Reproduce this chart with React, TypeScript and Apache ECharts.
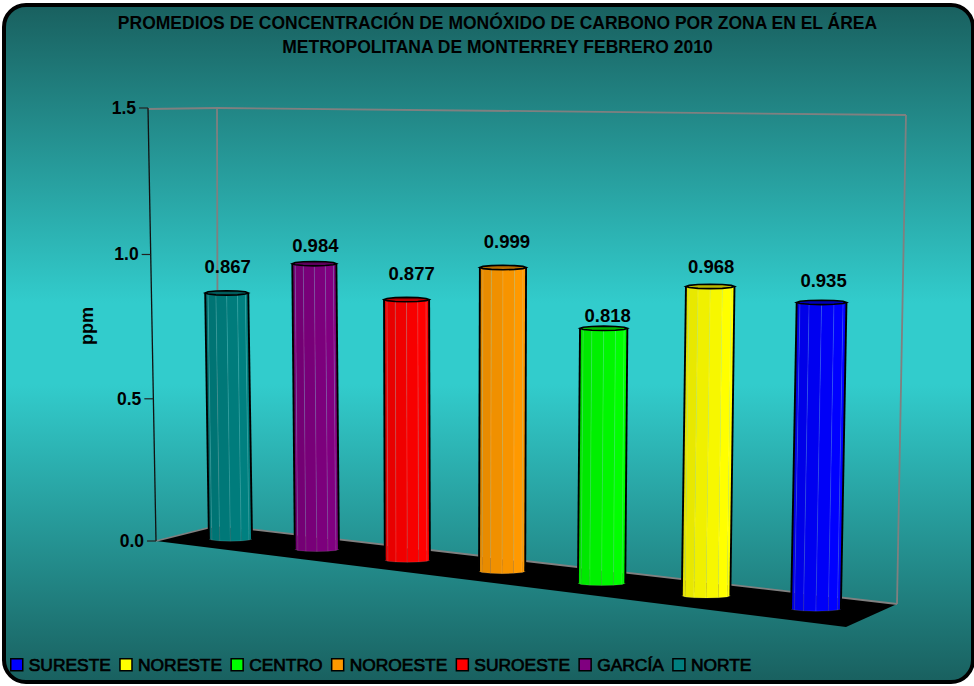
import React, { useEffect, useRef } from "react";
import * as echarts from "echarts";

const TITLE = "PROMEDIOS DE CONCENTRACIÓN DE MONÓXIDO DE CARBONO POR ZONA EN EL ÁREA\nMETROPOLITANA DE MONTERREY FEBRERO 2010";
const CATEGORIES = ["NORTE", "GARCÍA", "SUROESTE", "NOROESTE", "CENTRO", "NORESTE", "SURESTE"];
const VALUES = [0.867, 0.984, 0.877, 0.999, 0.818, 0.968, 0.935];
const COLORS = ["#008080", "#800080", "#ff0000", "#ff9900", "#00ff00", "#ffff00", "#0000ff"];
const LEGEND_ORDER = ["SURESTE", "NORESTE", "CENTRO", "NOROESTE", "SUROESTE", "GARCÍA", "NORTE"];
const TICKS = [0, 0.5, 1, 1.5];
const LABEL_LIFT = [26, 18, 26, 26, 13, 20, 22];
const LABEL_SHIFT = [0, 0, 4, 3, 3, 0, 1];
const FONT = '"Liberation Sans", Arial, sans-serif';

// Perspective of the bars' plane
const K = 0.155, X0 = 188.7, XS = 578.3, Y0 = 534, YS = 69.1, H = 421, R = 21.3, RY = 2.2, LEAN = 12 * 1.5;
const FACETS = 6;

function shade(hex: string, f: number) {
  const n = parseInt(hex.slice(1), 16);
  const c = (s: number) => Math.round(((n >> s) & 255) * f);
  return `rgb(${c(16)},${c(8)},${c(0)})`;
}

function renderBar(params: any, api: any) {
  const cs = params.coordSys;
  const i = api.value(0);
  const val = api.value(1);
  const p0 = api.coord([i, 0]);
  const p1 = api.coord([i, val]);
  const u = (p0[0] - cs.x) / cs.width;
  const v = (p0[1] - p1[1]) / cs.height;
  const w = 1 / (1 - K * u);
  const cx = X0 + XS * u * w;
  const by = Y0 + YS * u * w;
  const ty = by - H * v * w;
  const half = R * w;
  const lean = LEAN * (u - 0.43) * v;
  const color = COLORS[i];
  const children: any[] = [];
  const at = (k: number) => {
    const th = (Math.PI * k) / FACETS;
    return { c: -Math.cos(th), s: Math.sin(th) };
  };
  // cap
  const cap: number[][] = [];
  for (let k = 0; k <= 2 * FACETS; k++) {
    const th = (Math.PI * k) / FACETS;
    cap.push([cx + lean - half * Math.cos(th), ty + RY * Math.sin(th)]);
  }
  // facets
  for (let k = 0; k < FACETS; k++) {
    const a = at(k), b = at(k + 1);
    const f = 0.88 + (0.12 * Math.min(k, 4)) / 4;
    children.push({
      type: "polygon",
      shape: {
        points: [
          [cx + lean + half * a.c, ty + RY * a.s],
          [cx + lean + half * b.c, ty + RY * b.s],
          [cx + half * b.c, by + RY * b.s],
          [cx + half * a.c, by + RY * a.s],
        ],
      },
      style: { fill: shade(color, f), stroke: "rgba(255,255,255,0.16)", lineWidth: 0.7 },
    });
  }
  children.push({
    type: "polygon",
    shape: { points: cap },
    style: { fill: shade(color, 0.72), stroke: "#000", lineWidth: 1.6 },
  });
  children.push({
    type: "line",
    shape: { x1: cx + lean - half, y1: ty, x2: cx - half, y2: by },
    style: { stroke: "#000", lineWidth: 1.9 },
  });
  children.push({
    type: "line",
    shape: { x1: cx + lean + half, y1: ty, x2: cx + half, y2: by },
    style: { stroke: "#000", lineWidth: 1.9 },
  });
  children.push({
    type: "text",
    style: {
      text: val.toFixed(3),
      x: cx + lean + 1 + LABEL_SHIFT[i],
      y: ty - LABEL_LIFT[i],
      align: "center",
      verticalAlign: "middle",
      fill: "#000",
      font: `bold 18.5px ${FONT}`,
    },
  });
  return { type: "group", children };
}

function renderTick(params: any, api: any) {
  const cs = params.coordSys;
  const val = api.value(1);
  const p = api.coord([0, val]);
  const v = (cs.y + cs.height - p[1]) / cs.height;
  const f = (v * 0.978) / (1 - 0.022 * v);
  const y = cs.y + cs.height - f * cs.height;
  const x = 156 - 8 * v;
  return {
    type: "group",
    children: [
      { type: "line", shape: { x1: x - 9, y1: y, x2: x, y2: y }, style: { stroke: "#222", lineWidth: 1.2 } },
      {
        type: "text",
        style: {
          text: val.toFixed(1),
          x: x - 12,
          y,
          align: "right",
          verticalAlign: "middle",
          fill: "#000",
          font: `bold 17.5px ${FONT}`,
        },
      },
    ],
  };
}

export default function App() {
  const ref = useRef<HTMLDivElement>(null);
  useEffect(() => {
    document.body.style.margin = "0";
    const chart = echarts.init(ref.current!, undefined, { renderer: "svg" });
    const gray = { stroke: "#808080", lineWidth: 1.8 };
    chart.setOption({
      animation: false,
      title: {
        text: TITLE,
        left: 492.5,
        top: 6,
        textAlign: "center",
        textStyle: { fontFamily: FONT, fontSize: 17.5, fontWeight: "bold", color: "#000", lineHeight: 24 },
      },
      legend: {
        data: LEGEND_ORDER.map((name) => ({ name, icon: "rect" })),
        left: 10,
        top: 656,
        padding: 0,
        itemWidth: 12,
        itemHeight: 12,
        itemGap: 8,
        selectedMode: false,
        itemStyle: { borderColor: "#000", borderWidth: 1.5 },
        textStyle: { fontFamily: FONT, fontSize: 17.4, color: "#000", textBorderColor: "#000", textBorderWidth: 0.7, padding: [1, 0, 0, 1] },
      },
      grid: { left: 148, top: 108, width: 750, height: 433, containLabel: false },
      xAxis: { type: "category", data: CATEGORIES, show: false },
      yAxis: {
        type: "value",
        min: 0,
        max: 1.5,
        interval: 0.5,
        name: "ppm",
        nameLocation: "middle",
        nameRotate: 90,
        nameGap: 52,
        nameTextStyle: { fontFamily: FONT, fontSize: 18, fontWeight: "bold", color: "#000", padding: [0, 3, 0, 0] },
        axisLine: { show: false },
        axisTick: { show: false },
        axisLabel: { show: false },
        splitLine: { show: false },
      },
      graphic: [
        {
          type: "rect",
          z: -10,
          shape: { x: 4, y: 5, width: 969, height: 677, r: 22 },
          style: {
            stroke: "#000",
            lineWidth: 4,
            fill: new echarts.graphic.LinearGradient(0, 0, 0, 1, [
              { offset: 0, color: "#19605f" },
              { offset: 0.44, color: "#32cccc" },
              { offset: 0.56, color: "#32cccc" },
              { offset: 1, color: "#19605f" },
            ]),
          },
        },
        { type: "polygon", z: -5, shape: { points: [[156, 541], [217, 525.5], [897, 604], [846, 627]] }, style: { fill: "#000" } },
        { type: "line", z: -4, shape: { x1: 148, y1: 109, x2: 217, y2: 108 }, style: gray },
        { type: "line", z: -4, shape: { x1: 217, y1: 108, x2: 906, y2: 115 }, style: gray },
        { type: "line", z: -4, shape: { x1: 217, y1: 108, x2: 218, y2: 525.5 }, style: gray },
        { type: "line", z: -4, shape: { x1: 906, y1: 115, x2: 897, y2: 604 }, style: gray },
        { type: "line", z: -4, shape: { x1: 218, y1: 525.5, x2: 897, y2: 604 }, style: gray },
        { type: "line", z: -4, shape: { x1: 156, y1: 541, x2: 218, y2: 525.5 }, style: gray },
        { type: "line", z: -3, shape: { x1: 148, y1: 108, x2: 156, y2: 541 }, style: { stroke: "#111", lineWidth: 1.3 } },
      ],
      series: [
        ...CATEGORIES.map((name, i) => ({
          type: "custom",
          name,
          coordinateSystem: "cartesian2d",
          clip: false,
          itemStyle: { color: COLORS[i] },
          encode: { x: 0, y: 1 },
          data: [[i, VALUES[i]]],
          renderItem: renderBar,
          z: 3 + i,
        })),
        {
          type: "custom",
          name: "ticks",
          coordinateSystem: "cartesian2d",
          clip: false,
          encode: { x: 0, y: 1 },
          data: TICKS.map((t) => [0, t]),
          renderItem: renderTick,
          z: 2,
        },
      ],
    });
    return () => chart.dispose();
  }, []);
  return <div ref={ref} style={{ width: 974, height: 686 }} />;
}
